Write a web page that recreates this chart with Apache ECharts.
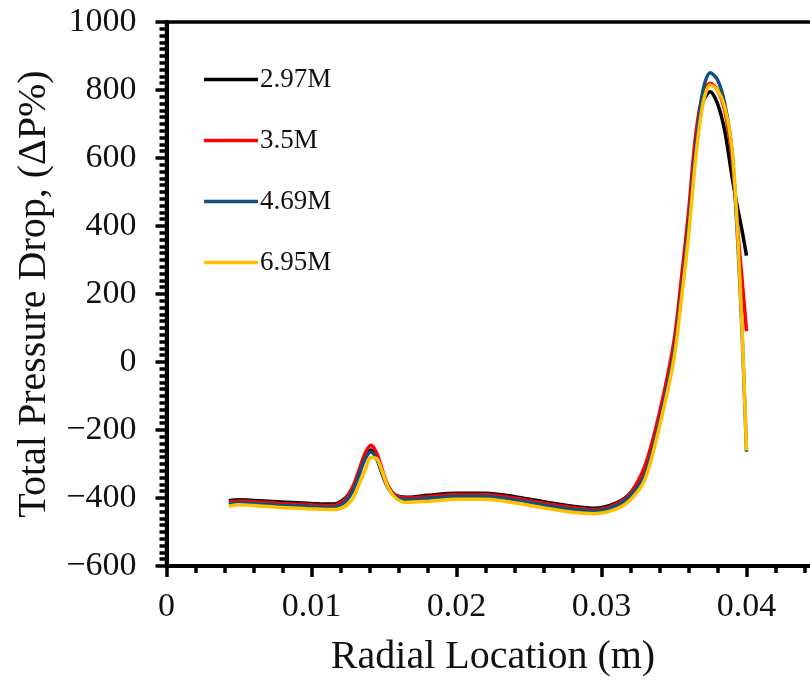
<!DOCTYPE html>
<html>
<head>
<meta charset="utf-8">
<script src="https://cdn.jsdelivr.net/npm/echarts@6/dist/echarts.min.js"></script>
<style>
  html, body { margin: 0; padding: 0; background: #fff; }
  #chart { width: 810px; height: 682px; }
</style>
</head>
<body>
<div id="chart"></div>
<script>
// Radial location (m) where the total pressure drop was sampled
const radialLocation = [0.0043, 0.005, 0.006, 0.008, 0.010, 0.0112, 0.0118, 0.0124, 0.0129, 0.0133,
  0.0137, 0.0141, 0.0145, 0.0149, 0.0153, 0.0158, 0.0165, 0.018, 0.020, 0.022,
  0.024, 0.026, 0.028, 0.0295, 0.031, 0.032, 0.033, 0.034, 0.035, 0.0355,
  0.036, 0.0365, 0.037, 0.0375, 0.038, 0.0385, 0.039, 0.0394, 0.0397, 0.040];

// Total pressure drop (ΔP%) for each case
const drop297 = [-408, -405, -407, -412, -416, -418, -415, -398, -365, -322,
  -280, -259, -282, -330, -370, -392, -398, -392, -386, -386,
  -396, -411, -424, -430, -415, -385, -315, -160, 45, 215,
  420, 630, 765, 795, 760, 680, 545, 450, 385, 313];
const drop350 = [-412, -409, -411, -416, -420, -422, -419, -400, -362, -315,
  -268, -245, -268, -320, -365, -392, -400, -396, -390, -390,
  -400, -415, -428, -434, -418, -385, -305, -149, 62, 242,
  440, 670, 790, 820, 800, 740, 600, 385, 240, 91];
const drop469 = [-417, -414, -416, -421, -425, -427, -425, -408, -375, -330,
  -285, -265, -286, -333, -372, -396, -405, -401, -395, -395,
  -405, -420, -433, -438, -423, -392, -330, -175, 30, 200,
  400, 630, 800, 851, 830, 760, 620, 350, 80, -264];
const drop695 = [-424, -420, -422, -428, -432, -434, -433, -422, -398, -357,
  -318, -281, -284, -325, -370, -400, -413, -410, -404, -404,
  -414, -429, -442, -446, -433, -405, -345, -190, 10, 180,
  370, 600, 760, 815, 800, 750, 630, 370, 90, -260];

const seriesNames = ['2.97M', '3.5M', '4.69M', '6.95M'];
const seriesColors = ['#000000', '#ff0000', '#14507e', '#ffc000'];
const seriesValues = [drop297, drop350, drop469, drop695];

const FONT = '"Liberation Serif", "Times New Roman", serif';

const chart = echarts.init(document.getElementById('chart'), null, { renderer: 'canvas' });

chart.setOption({
  animation: false,
  backgroundColor: '#ffffff',
  grid: {
    left: 166.5, top: 22, bottom: 116, right: -81.5,
    outerBoundsMode: 'none',
    containLabel: false,
    show: true, borderColor: '#000', borderWidth: 3.5, backgroundColor: 'transparent'
  },
  legend: {
    orient: 'vertical',
    left: 199, top: 61,
    itemWidth: 54, itemHeight: 3.5, itemGap: 34,
    icon: 'rect',
    data: seriesNames.map((n, i) => ({ name: n, itemStyle: { color: seriesColors[i] } })),
    itemStyle: { borderWidth: 0 },
    textStyle: { fontFamily: FONT, fontSize: 27, color: '#111', padding: [0, 0, 0, -3] }
  },
  xAxis: {
    type: 'value',
    min: 0, max: 0.05, interval: 0.01,
    name: 'Radial Location (m)',
    nameLocation: 'middle',
    nameGap: 71,
    nameTextStyle: { fontFamily: FONT, fontSize: 40, color: '#111', padding: [0, 72, 0, 0] },
    axisLine: { show: true, onZero: false, lineStyle: { color: '#000', width: 4 } },
    axisTick: { show: true, inside: false, length: 11, lineStyle: { color: '#000', width: 3.5 } },
    minorTick: { show: true, splitNumber: 5, length: 7, lineStyle: { color: '#000', width: 3.5 } },
    splitLine: { show: false },
    axisLabel: {
      fontFamily: FONT, fontSize: 34, color: '#111', margin: 24,
      formatter: v => (v === 0 ? '0' : v.toFixed(2))
    }
  },
  yAxis: {
    type: 'value',
    min: -600, max: 1000, interval: 200,
    name: 'Total Pressure Drop, (ΔP%)',
    nameLocation: 'middle',
    nameGap: 112,
    nameTextStyle: { fontFamily: FONT, fontSize: 40, color: '#111' },
    axisLine: { show: true, onZero: false, lineStyle: { color: '#000', width: 4 } },
    axisTick: { show: true, inside: false, length: 11, lineStyle: { color: '#000', width: 3.5 } },
    minorTick: { show: true, splitNumber: 10, length: 7, lineStyle: { color: '#000', width: 3.5 } },
    splitLine: { show: false },
    axisLabel: {
      fontFamily: FONT, fontSize: 34, color: '#111', margin: 30,
      formatter: v => String(v).replace('-', '\u2212')
    }
  },
  series: seriesNames.map((name, i) => ({
    name: name,
    type: 'line',
    data: radialLocation.map((x, k) => [x, seriesValues[i][k]]),
    smooth: 0.3,
    symbol: 'none',
    color: seriesColors[i],
    lineStyle: { color: seriesColors[i], width: 3.5 },
    z: 2 + i
  }))
});
</script>
</body>
</html>
